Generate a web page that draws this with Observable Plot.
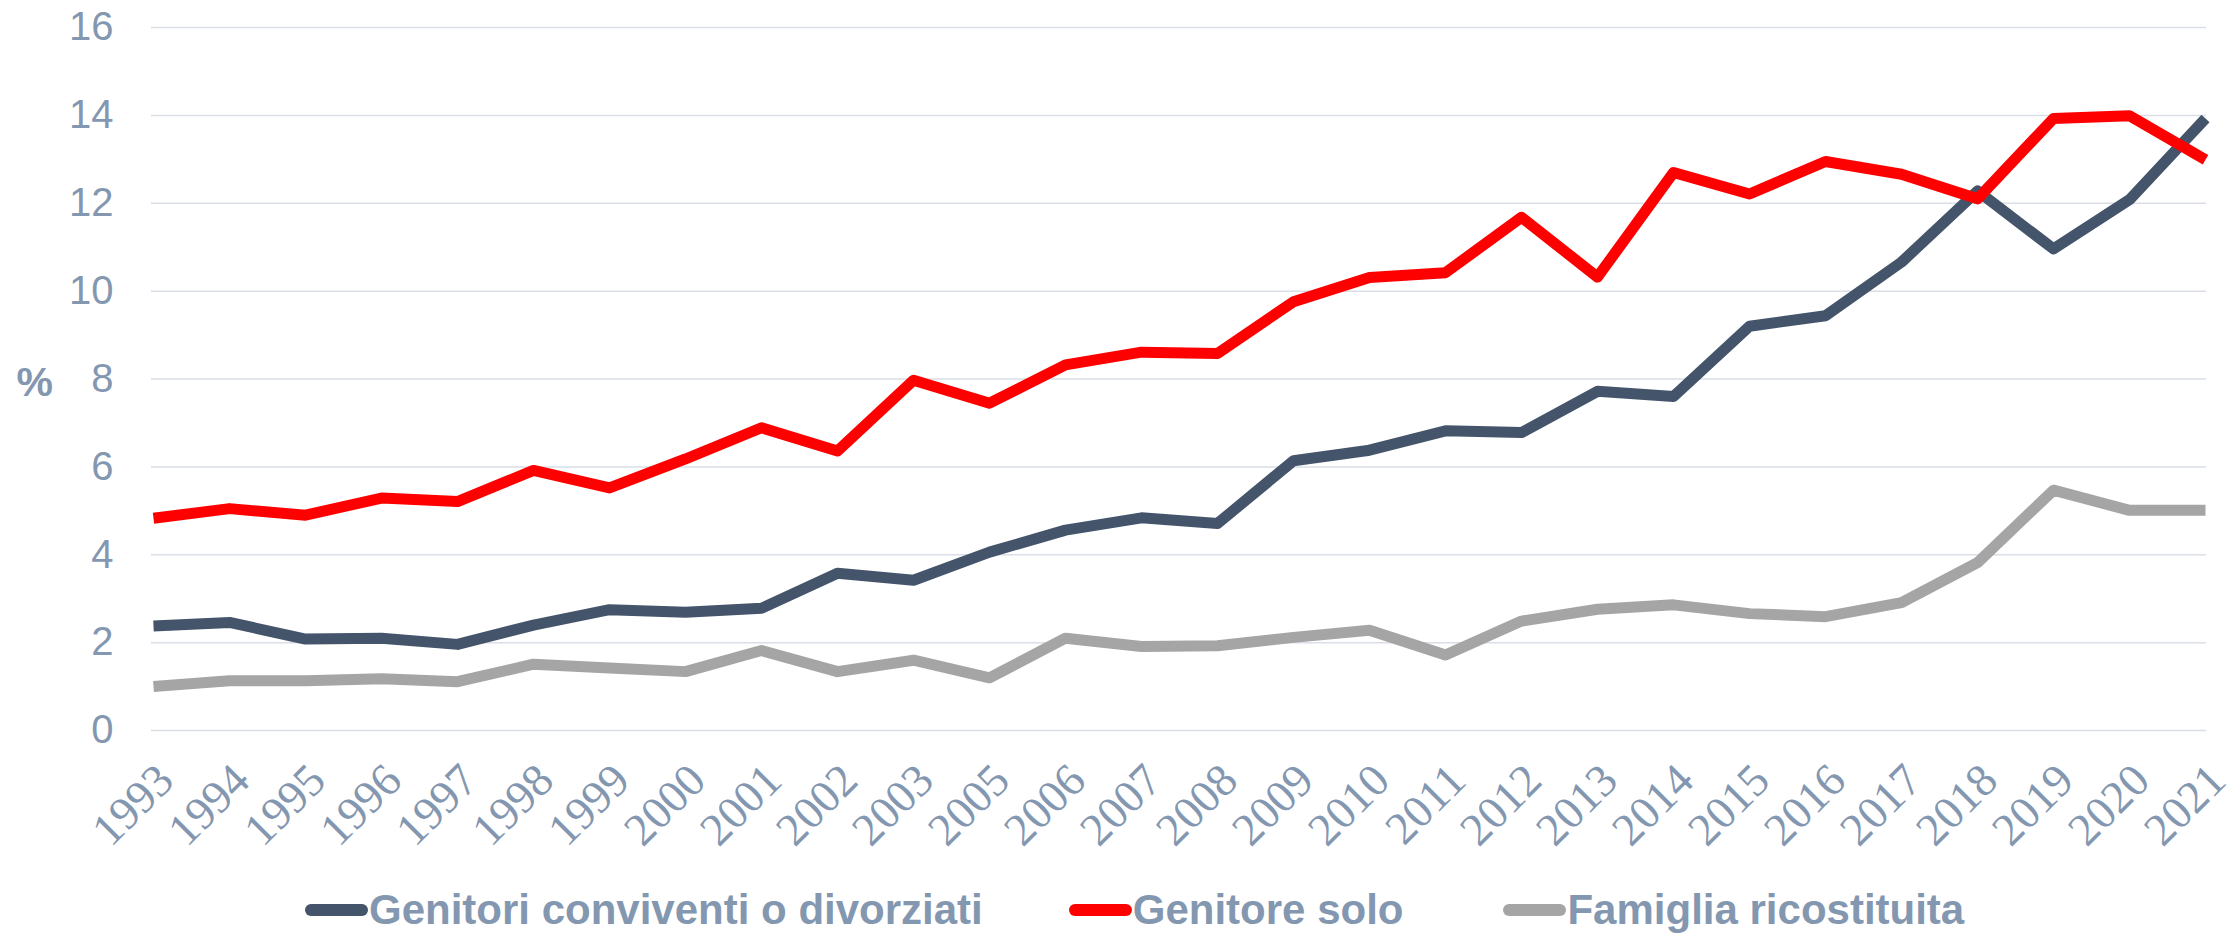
<!DOCTYPE html>
<html>
<head>
<meta charset="utf-8">
<script src="https://cdn.jsdelivr.net/npm/d3@7"></script>
<script src="https://cdn.jsdelivr.net/npm/@observablehq/plot@0.6"></script>
<style>
  html, body { margin: 0; padding: 0; background: #ffffff; }
  #chart svg { display: block; }
  #legend { display: flex; justify-content: flex-start; align-items: center; height: 100px; padding-left: 305px;
            font-family: "Liberation Sans", Arial, sans-serif; font-weight: bold; font-size: 42px; color: #8497b0; }
  .item { display: flex; align-items: center; white-space: nowrap; }
  .item + .item { margin-left: 86px; }
  .item:nth-child(3) { margin-left: 100px; }
  .sw { width: 63px; height: 12px; border-radius: 6px; margin-right: 1px; }
</style>
</head>
<body>
<div id="chart"></div>
<div id="legend"></div>
<script>
const years = ["1993","1994","1995","1996","1997","1998","1999","2000","2001","2002","2003",
               "2005","2006","2007","2008","2009","2010","2011","2012","2013","2014","2015",
               "2016","2017","2018","2019","2020","2021"];
const genitoriConviventi = [2.38, 2.46, 2.08, 2.10, 1.96, 2.40, 2.75, 2.69, 2.78, 3.58, 3.42,
                            4.06, 4.56, 4.84, 4.71, 6.14, 6.38, 6.82, 6.78, 7.72, 7.60, 9.20,
                            9.44, 10.66, 12.28, 10.96, 12.08, 13.93];
const genitoreSolo = [4.83, 5.05, 4.90, 5.29, 5.21, 5.92, 5.52, 6.18, 6.89, 6.36, 7.97,
                      7.45, 8.32, 8.61, 8.58, 9.76, 10.31, 10.42, 11.68, 10.32, 12.70, 12.21,
                      12.95, 12.66, 12.10, 13.93, 13.99, 12.99];
const famigliaRicostituita = [1.00, 1.13, 1.13, 1.18, 1.11, 1.51, 1.42, 1.34, 1.82, 1.34, 1.60,
                              1.20, 2.10, 1.91, 1.93, 2.12, 2.28, 1.72, 2.49, 2.76, 2.86, 2.66,
                              2.59, 2.91, 3.82, 5.47, 5.01, 5.01];
const seriesNames = ["Genitori conviventi o divorziati", "Genitore solo", "Famiglia ricostituita"];
const seriesColors = ["#44546a", "#ff0000", "#a5a5a5"];
const yTicks = [0, 2, 4, 6, 8, 10, 12, 14, 16];
const yUnit = "%";
const yUnitAt = 8;

const seriesValues = [genitoriConviventi, genitoreSolo, famigliaRicostituita];
const table = seriesNames.flatMap((name, s) =>
  years.map((year, i) => ({series: name, year, value: seriesValues[s][i]})));

const labelColor = "#8497b0";

const chart = Plot.plot({
  width: 2239,
  height: 860,
  marginTop: 27,
  marginBottom: 130,
  marginLeft: 151,
  marginRight: 33,
  style: {background: "#ffffff", fontFamily: "Liberation Sans, Arial, sans-serif"},
  x: {type: "point", domain: years, padding: 0},
  y: {domain: [0, 16]},
  color: {domain: seriesNames, range: seriesColors},
  marks: [
    Plot.gridY(yTicks, {stroke: "#d9dee7", strokeOpacity: 1, strokeWidth: 1.5}),
    Plot.axisY(yTicks, {tickSize: 0, tickPadding: 38, fontSize: 40, fill: labelColor, label: null}),
    Plot.axisX(years, {tickSize: 0, tickRotate: -45, tickPadding: 42, dx: 12,
                       fontSize: 46, fontFamily: "Liberation Serif, serif", fill: labelColor, label: null}),
    Plot.line(table, {x: "year", y: "value", z: "series", stroke: "series",
                      strokeWidth: 11, strokeLinecap: "butt", strokeLinejoin: "round"}),
    Plot.text([yUnit], {frameAnchor: "left", y: [yUnitAt], dx: -135, dy: 4, text: d => d,
                        fontSize: 41, fontWeight: "bold", fill: labelColor})
  ]
});
document.getElementById("chart").appendChild(chart);

const legend = document.getElementById("legend");
seriesNames.forEach((name, i) => {
  const item = document.createElement("div");
  item.className = "item";
  const sw = document.createElement("div");
  sw.className = "sw";
  sw.style.background = seriesColors[i];
  const label = document.createElement("span");
  label.textContent = name;
  item.appendChild(sw);
  item.appendChild(label);
  legend.appendChild(item);
});
</script>
</body>
</html>
